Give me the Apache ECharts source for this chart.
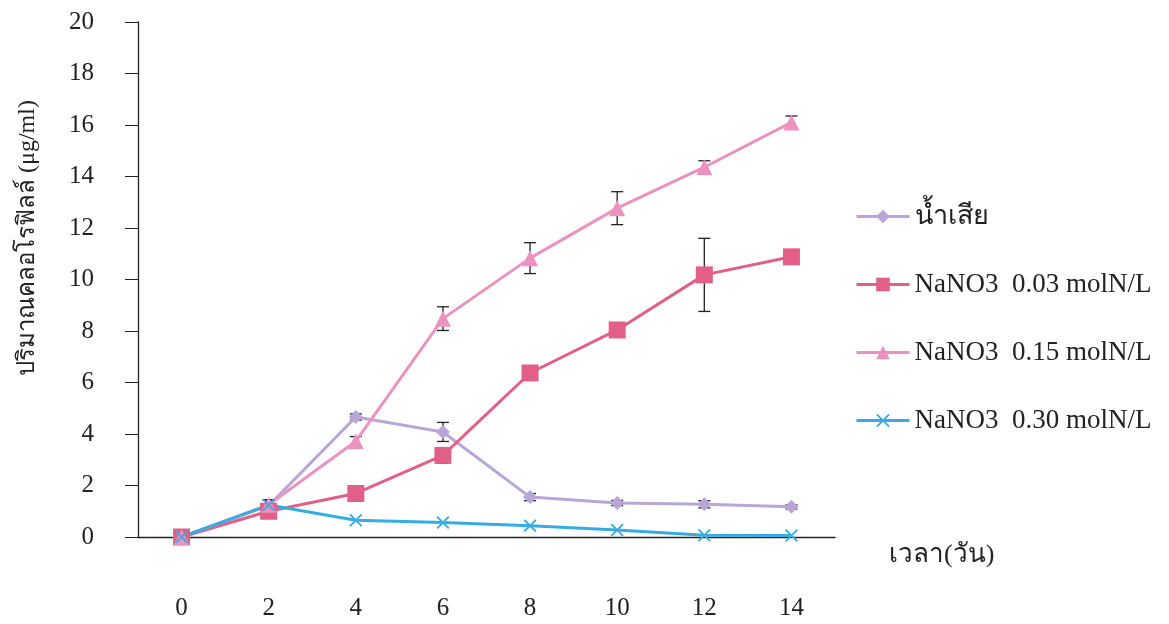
<!DOCTYPE html>
<html>
<head>
<meta charset="utf-8">
<script src="https://cdn.jsdelivr.net/npm/echarts@6/dist/echarts.min.js"></script>
<style>
  html, body { margin: 0; padding: 0; background: #fff; }
  #chart { width: 1169px; height: 624px; }
</style>
</head>
<body>
<div id="chart"></div>
<script>
// days
var days = ['0', '2', '4', '6', '8', '10', '12', '14']

// chlorophyll (ug/ml) and the error bar half width per point
var wasteWater = [0, 1.22, 4.66, 4.08, 1.55, 1.32, 1.27, 1.17]
var wasteWaterErr = [0, 0.2, 0.12, 0.37, 0.14, 0.1, 0.14, 0.08]
var nano3_003 = [0, 1.0, 1.69, 3.17, 6.37, 8.04, 10.18, 10.88]
var nano3_003Err = [0, 0.15, 0.1, 0.3, 0.12, 0.22, 1.42, 0.22]
var nano3_015 = [0, 1.25, 3.72, 8.48, 10.83, 12.77, 14.36, 16.1]
var nano3_015Err = [0, 0.2, 0.18, 0.46, 0.6, 0.64, 0.25, 0.25]
var nano3_030 = [0, 1.24, 0.65, 0.56, 0.44, 0.27, 0.07, 0.06]

var seriesNames = ['น้ำเสีย', 'NaNO3  0.03 molN/L', 'NaNO3  0.15 molN/L', 'NaNO3  0.30 molN/L']
var seriesColors = ['#b9a5d8', '#e25f88', '#ec92c0', '#36ade2']

var serifFont = '"Liberation Serif", "DejaVu Serif", serif'
var crossPath = 'path://M0,1L1,0L5,4L9,0L10,1L6,5L10,9L9,10L5,6L1,10L0,9L4,5Z'

function errBars(vals, errs) {
  var out = []
  for (var i = 0; i < vals.length; i++) {
    if (errs[i] > 0) out.push([i, vals[i] - errs[i], vals[i] + errs[i]])
  }
  return out
}

function errSeries(vals, errs) {
  return {
    type: 'custom',
    silent: true,
    z: 1,
    data: errBars(vals, errs),
    renderItem: function (params, api) {
      var lo = api.coord([api.value(0), api.value(1)])
      var hi = api.coord([api.value(0), api.value(2)])
      var w = 6
      var st = { stroke: '#222', lineWidth: 1.3 }
      return {
        type: 'group',
        children: [
          { type: 'line', shape: { x1: lo[0], y1: lo[1], x2: hi[0], y2: hi[1] }, style: st },
          { type: 'line', shape: { x1: lo[0] - w, y1: lo[1], x2: lo[0] + w, y2: lo[1] }, style: st },
          { type: 'line', shape: { x1: hi[0] - w, y1: hi[1], x2: hi[0] + w, y2: hi[1] }, style: st }
        ]
      }
    }
  }
}

function lineSeries(idx, vals, symbol, size) {
  return {
    name: seriesNames[idx],
    type: 'line',
    data: vals,
    symbol: symbol,
    symbolSize: size,
    z: 3,
    lineStyle: { color: seriesColors[idx], width: 3 },
    itemStyle: { color: seriesColors[idx] }
  }
}

var chart = echarts.init(document.getElementById('chart'))
chart.setOption({
  backgroundColor: '#fff',
  animation: false,
  grid: {
    left: 138,
    right: 334,
    top: 22,
    bottom: 87
  },
  legend: {
    orient: 'vertical',
    left: 850,
    top: 198,
    itemWidth: 53,
    itemHeight: 17,
    itemGap: 41,
    data: seriesNames,
    lineStyle: { width: 3 },
    textStyle: { fontFamily: serifFont, fontSize: 27, color: '#222' }
  },
  xAxis: {
    type: 'category',
    data: days,
    boundaryGap: true,
    axisLine: { lineStyle: { color: '#222', width: 1.3 } },
    axisTick: { alignWithLabel: true, length: 9, lineStyle: { color: '#222' } },
    axisLabel: { margin: 59, fontFamily: serifFont, fontSize: 25, color: '#222' },
    splitLine: { show: false }
  },
  yAxis: {
    type: 'value',
    min: 0,
    max: 20,
    interval: 2,
    axisLine: { show: true, lineStyle: { color: '#222', width: 1.3 } },
    axisTick: { show: true, length: 13, lineStyle: { color: '#222' } },
    axisLabel: { margin: 44, fontFamily: serifFont, fontSize: 25, color: '#222' },
    splitLine: { show: false }
  },
  graphic: [{
    type: 'text',
    x: 28,
    y: 238,
    rotation: Math.PI / 2,
    style: {
      text: 'ปริมาณคลอโรฟิลล์ (μg/ml)',
      font: '24px ' + serifFont,
      fill: '#222',
      align: 'center',
      verticalAlign: 'middle'
    }
  }, {
    type: 'text',
    x: 889,
    y: 555,
    style: {
      text: 'เวลา(วัน)',
      font: '26px ' + serifFont,
      fill: '#222',
      align: 'left',
      verticalAlign: 'middle'
    }
  }],
  series: [
    lineSeries(0, wasteWater, 'diamond', 14),
    lineSeries(1, nano3_003, 'rect', 17),
    lineSeries(2, nano3_015, 'triangle', 16),
    lineSeries(3, nano3_030, crossPath, 13),
    errSeries(wasteWater, wasteWaterErr),
    errSeries(nano3_003, nano3_003Err),
    errSeries(nano3_015, nano3_015Err)
  ]
})
</script>
</body>
</html>
